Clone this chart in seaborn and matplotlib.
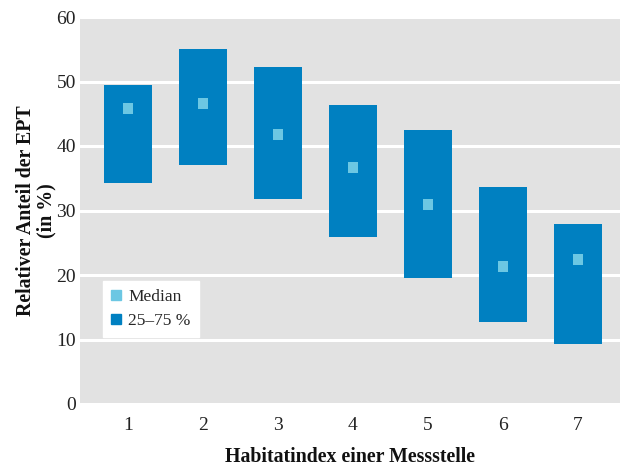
import matplotlib
matplotlib.use("Agg")
import matplotlib.pyplot as plt
from matplotlib.lines import Line2D
import seaborn as sns
import pandas as pd
import numpy as np

habitat = [1, 2, 3, 4, 5, 6, 7]
q25 = [34.3, 37.1, 31.8, 25.9, 19.5, 12.7, 9.3]
q75 = [49.5, 55.0, 52.2, 46.4, 42.5, 33.6, 27.9]
median = [45.8, 46.6, 41.8, 36.7, 30.9, 21.3, 22.4]
yticks = [0, 10, 20, 30, 40, 50, 60]

bar_color = "#0080c1"
med_color = "#6cc7e3"
bg_color = "#e2e2e2"

sns.set_theme(style="darkgrid")
plt.rcParams["font.family"] = ["Liberation Serif", "DejaVu Serif"]

df = pd.DataFrame({"habitat": habitat, "q25": q25, "q75": q75, "median": median})
df["iqr"] = df["q75"] - df["q25"]

fig = plt.figure(figsize=(6.21, 4.67), dpi=100)
ax = fig.add_axes([80 / 621, 1 - 404 / 467, 540 / 621, 387 / 467])
ax.set_facecolor(bg_color)

sns.barplot(data=df, x="habitat", y="iqr", bottom=df["q25"].values, native_scale=True,
            width=0.64, color=bar_color, saturation=1, linewidth=0, ax=ax, zorder=2)
sns.scatterplot(data=df, x="habitat", y="median", marker="s", s=62, color=med_color,
                edgecolor="none", linewidth=0, ax=ax, zorder=3, legend=False)

ax.set_xlim(0.36, 7.56)
ax.set_ylim(0, 60)
ax.set_yticks(yticks)
ax.set_xticks(habitat)
ax.set_xticklabels([str(h) for h in habitat])
ax.grid(axis="y", color="white", linewidth=2.2)
ax.grid(axis="x", visible=False)
ax.set_axisbelow(True)
for s in ax.spines.values():
    s.set_visible(False)
ax.tick_params(axis="both", length=0, labelsize=14, colors="#222222")
ax.tick_params(axis="y", pad=3)
ax.tick_params(axis="x", pad=9)

ax.set_xlabel("Habitatindex einer Messstelle", fontsize=14.3, fontweight="bold",
              color="#111111", labelpad=10)
ax.set_ylabel("Relativer Anteil der EPT\n(in %)", fontsize=14.3, fontweight="bold",
              color="#111111", labelpad=0, linespacing=1.0)

handles = [Line2D([], [], marker="s", linestyle="none", markersize=7, color=med_color),
           Line2D([], [], marker="s", linestyle="none", markersize=7, color=bar_color)]
leg = ax.legend(handles, ["Median", "25–75 %"], loc="lower left",
                bbox_to_anchor=(0.043, 0.173), frameon=True, fancybox=False,
                facecolor="white", edgecolor="white", framealpha=1,
                fontsize=12.5, handlelength=0.6, handletextpad=0.4,
                borderpad=0.45, labelspacing=0.45, borderaxespad=0)
leg.set_zorder(5)

fig.savefig("out.png", dpi=100)
